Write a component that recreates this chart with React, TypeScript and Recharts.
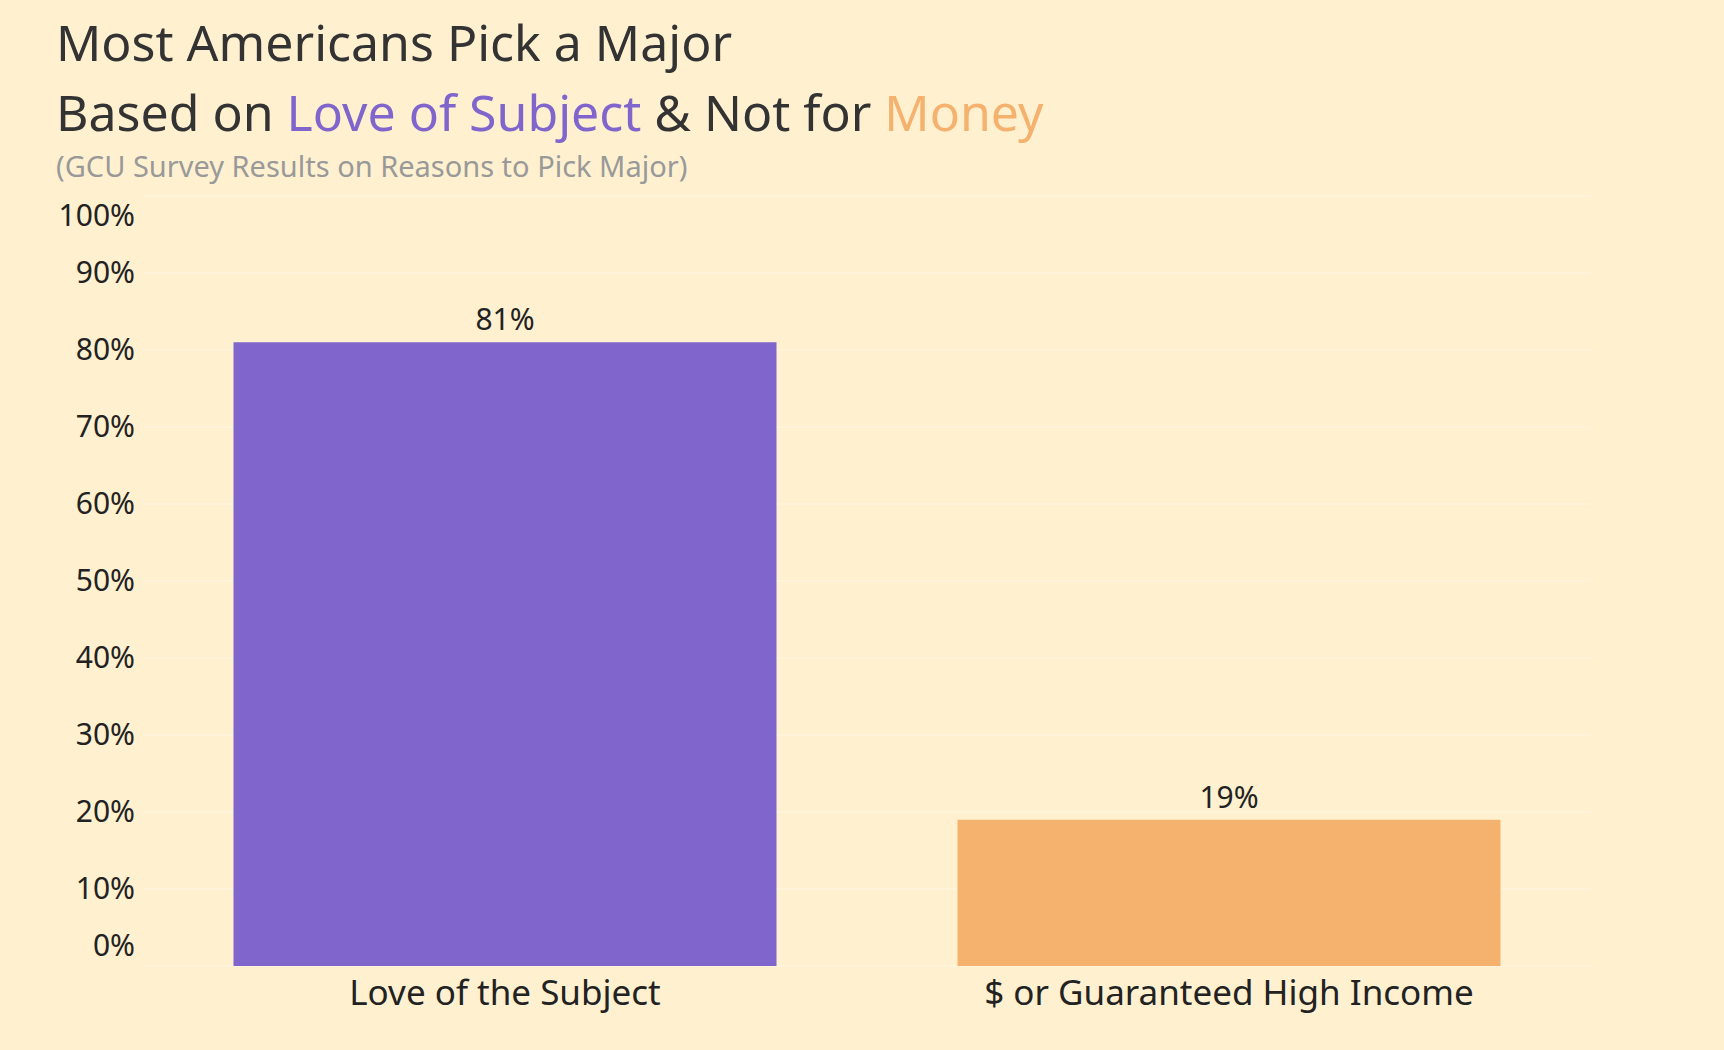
import { BarChart, Bar, XAxis, YAxis, CartesianGrid, LabelList, Cell } from 'recharts';

const categories = ['Love of the Subject', '$ or Guaranteed High Income'];
const shares = [81, 19];
const barColors = ['#7F65CC', '#F5B26E'];
const yTicks = [0, 10, 20, 30, 40, 50, 60, 70, 80, 90, 100];

const data = categories.map((name, i) => ({ name, value: shares[i] }));

const YTick = (props: any) => {
  const { x, y, payload } = props;
  let dy = 10;
  if (payload.value === 0) dy = -10;
  if (payload.value === 100) dy = 30;
  return (
    <text x={x} y={y + dy} textAnchor="end" fill="#222" fontSize={30} fontFamily="Noto Sans">
      {payload.value}%
    </text>
  );
};

export default function App() {
  return (
    <div style={{ position: 'fixed', left: 0, top: 0, width: 1724, height: 1050, background: '#FFF1D0', fontFamily: 'Noto Sans', overflow: 'hidden' }}>
      <div style={{ position: 'absolute', left: 56, top: 10, fontSize: 50, lineHeight: '64px', color: '#333' }}>
        Most Americans Pick a Major
      </div>
      <div style={{ position: 'absolute', left: 56, top: 80, fontSize: 50, lineHeight: '64px', color: '#333' }}>
        Based on <span style={{ color: '#7F65CC' }}>Love of Subject</span> &amp; Not for <span style={{ color: '#F5B26E' }}>Money</span>
      </div>
      <div style={{ position: 'absolute', left: 56, top: 148, fontSize: 29, lineHeight: '36px', color: '#999' }}>
        (GCU Survey Results on Reasons to Pick Major)
      </div>
      <div style={{ position: 'absolute', left: 0, top: 0 }}>
        <BarChart width={1724} height={1050} data={data} margin={{ top: 196, right: 133, bottom: 22, left: 0 }} barCategoryGap="12.5%">
          <CartesianGrid vertical={false} stroke="#FFF4DC" strokeWidth={1.5} />
          <YAxis type="number" domain={[0, 100]} ticks={yTicks} width={143} axisLine={false} tickLine={false} tick={<YTick />} />
          <XAxis dataKey="name" height={62} axisLine={false} tickLine={false} tick={{ fill: '#222', fontSize: 35, fontFamily: 'Noto Sans' }} dy={6} />
          <Bar dataKey="value" isAnimationActive={false}>
            {data.map((d, i) => (
              <Cell key={d.name} fill={barColors[i]} />
            ))}
            <LabelList dataKey="value" position="top" offset={12} formatter={(v: any) => `${v}%`} fill="#222" fontSize={30} fontFamily="Noto Sans" />
          </Bar>
        </BarChart>
      </div>
    </div>
  );
}
